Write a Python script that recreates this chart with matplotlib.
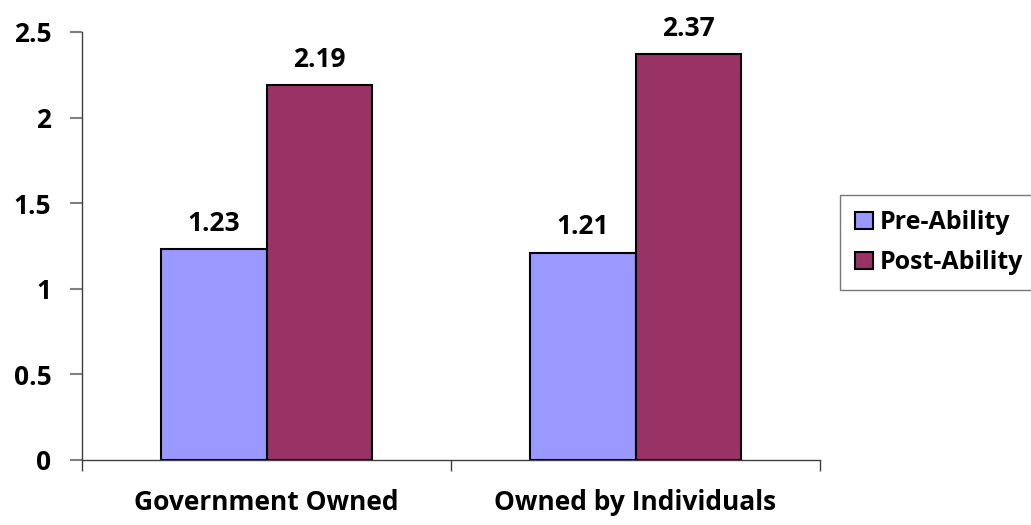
import matplotlib
matplotlib.use('Agg')
import matplotlib.pyplot as plt
import numpy as np

categories = ['Government Owned', 'Owned by Individuals']
series_names = ['Pre-Ability', 'Post-Ability']
pre_ability = [1.23, 1.21]
post_ability = [2.19, 2.37]
y_ticks = [0, 0.5, 1, 1.5, 2, 2.5]
y_tick_labels = ['0', '0.5', '1', '1.5', '2', '2.5']

plt.rcParams['font.family'] = ['Open Sans', 'DejaVu Sans']
plt.rcParams['font.weight'] = 'bold'

fig = plt.figure(figsize=(10.31, 5.25), dpi=100)
ax = fig.add_axes([82 / 1031, 1 - 460 / 525, (820 - 82) / 1031, (460 - 32) / 525])

x = np.arange(len(categories))
w = 0.287
bars_pre = ax.bar(x - w / 2, pre_ability, w, color='#9999FF', edgecolor='black', linewidth=1.5, label=series_names[0])
bars_post = ax.bar(x + w / 2, post_ability, w, color='#993366', edgecolor='black', linewidth=1.5, label=series_names[1])

for bars in (bars_pre, bars_post):
    for b in bars:
        ax.annotate(f'{b.get_height():.2f}', (b.get_x() + b.get_width() / 2, b.get_height()),
                    xytext=(0, 9), textcoords='offset points', ha='center', va='bottom',
                    fontsize=19, fontweight='bold')

ax.set_xlim(-0.5, 1.5)
ax.set_ylim(0, 2.5)
ax.set_yticks(y_ticks)
ax.set_yticklabels(y_tick_labels, fontsize=19, fontweight='bold')
ax.set_xticks([-0.5, 0.5, 1.5])
ax.set_xticklabels([])
ax.set_xticks(x, minor=True)
ax.set_xticklabels(categories, minor=True, fontsize=19, fontweight='bold')
ax.tick_params(axis='x', which='minor', length=0, pad=21)
ax.tick_params(axis='x', which='major', length=8, color='#404040', width=1)
ax.tick_params(axis='y', length=9, color='#808080', width=1.5, pad=13)

for s in ['top', 'right']:
    ax.spines[s].set_visible(False)
for s in ['left', 'bottom']:
    ax.spines[s].set_color('#404040')
    ax.spines[s].set_linewidth(1)

leg = fig.legend(loc='upper left', bbox_to_anchor=(840 / 1031, 1 - 195 / 525),
                 frameon=True, fancybox=False, edgecolor='#555555', fontsize=18,
                 handlelength=0.7, handleheight=0.7, handletextpad=0.3,
                 labelspacing=0.6, borderpad=0.6, borderaxespad=0)
leg.get_frame().set_linewidth(1)

plt.savefig('out.png', dpi=100)
plt.close()
